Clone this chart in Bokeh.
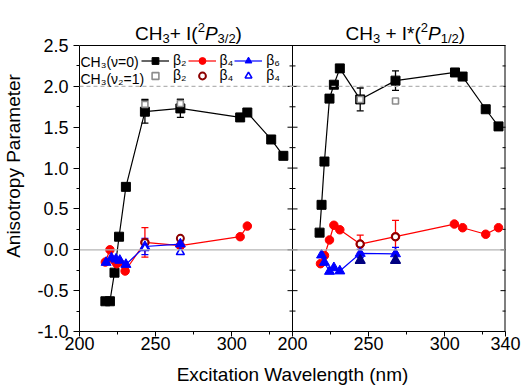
from bokeh.plotting import figure
from bokeh.models import (FixedTicker, PrintfTickFormatter, Span, Label, Legend,
                          LegendItem, Whisker, ColumnDataSource, TeeHead, Range1d)
from bokeh.embed import file_html
from bokeh.resources import INLINE

FONT = "Liberation Sans"

# ---------------- data: left panel  CH3 + I(2P3/2) ----------------
L_b2_x = [217, 220, 223, 226, 230.5, 243, 266.3, 305.6, 310.3, 326, 334]
L_b2_y = [-0.63, -0.63, -0.28, 0.16, 0.77, 1.69, 1.73, 1.62, 1.68, 1.35, 1.15]
L_b4_x = [217, 220, 223, 224.5, 226, 230, 243, 266.3, 305.6, 310.3]
L_b4_y = [-0.15, 0.0, -0.13, -0.17, -0.15, -0.26, 0.09, 0.05, 0.16, 0.29]
L_b6_x = [217.5, 221, 224, 226.5, 230.5, 243, 266.3]
L_b6_y = [-0.155, -0.10, -0.115, -0.13, -0.18, 0.04, 0.07]
L_v2_x = [243, 266.3]
L_v2_b2 = [1.78, 1.79]
L_v2_b4 = [0.09, 0.14]
L_v2_b6 = [0.02, -0.03]
# error bars (half widths) at L_v2_x
L_b2_err = [0.14, 0.11]
L_v2_b2_err = [0.06, 0.05]
L_b4_err_y = [0.09, 0.05]
L_b4_err = [0.18, 0.03]
L_b6_err_y = [0.04, 0.07]
L_b6_err = [0.10, 0.04]

# ---------------- data: right panel  CH3 + I*(2P1/2) ----------------
R_b2_x = [217.8, 219.1, 221.0, 224.3, 227.2, 231.1, 244.5, 267.7, 306.8, 311.8, 327, 335.4]
R_b2_y = [0.21, 0.55, 1.08, 1.85, 2.02, 2.22, 1.84, 2.07, 2.17, 2.12, 1.72, 1.51]
R_b4_x = [218.4, 221, 224.3, 227.2, 231.1, 244.5, 267.7, 306.4, 311.8, 327, 335.4]
R_b4_y = [-0.17, -0.07, 0.12, 0.30, 0.245, 0.07, 0.16, 0.315, 0.27, 0.19, 0.27]
R_b6_x = [219.1, 221, 224.3, 227.2, 231.1, 244.5, 267.7]
R_b6_y = [-0.065, -0.155, -0.265, -0.22, -0.26, -0.045, -0.05]
R_v2_x = [244.5, 267.7]
R_v2_b2 = [1.84, 1.82]
R_v2_b4 = [0.07, 0.16]
R_v2_b6 = [-0.13, -0.13]
R_b2_err_y = [1.84, 2.07]
R_b2_err = [0.14, 0.12]
R_b4_err_y = [0.07, 0.16]
R_b4_err = [0.11, 0.20]
R_b6_err_y = [-0.045, -0.05]
R_b6_err = [0.05, 0.08]

# ---------------- axes ----------------
X_START, X_SPLIT, X_END = 200, 340, 480
OFFSET = X_SPLIT - X_START            # right panel drawn after the left one
X_TICKS = [200, 250, 300, 340, 390, 440, 480]
X_TICK_LABELS = ["200", "250", "300", "200", "250", "300", "340"]
X_MINOR = [225, 275, 325, 365, 415, 465]
Y_MIN, Y_MAX = -1.0, 2.5
Y_TICKS = [-1.0, -0.5, 0.0, 0.5, 1.0, 1.5, 2.0, 2.5]
Y_MINOR = [-0.75, -0.25, 0.25, 0.75, 1.25, 1.75, 2.25]

# layout (pixels)
W_PX, H_PX = 526, 387
BORDER_L, BORDER_R, BORDER_B = 74, 21, 56
PLOT_TOP = 45                      # panel top edge; the titles live above it
PX_PER_UNIT = (H_PX - BORDER_B - PLOT_TOP) / (Y_MAX - Y_MIN)
Y_TOP = Y_MAX + PLOT_TOP / PX_PER_UNIT

def shift(xs):
    return [x + OFFSET for x in xs]

p = figure(width=W_PX, height=H_PX, output_backend="svg", toolbar_location=None,
           x_range=Range1d(X_START, X_END), y_range=Range1d(Y_MIN, Y_TOP),
           min_border_left=BORDER_L, min_border_right=BORDER_R, min_border_top=0,
           min_border_bottom=BORDER_B)
p.xgrid.visible = False
p.ygrid.visible = False
p.outline_line_color = None
p.background_fill_color = "white"
p.border_fill_color = "white"

for ax in (p.xaxis[0], p.yaxis[0]):
    ax.major_label_text_font = FONT
    ax.major_label_text_font_size = "18px"
    ax.major_label_text_color = "black"
    ax.axis_label_text_font = FONT
    ax.axis_label_text_font_size = "19px"
    ax.axis_label_text_font_style = "normal"
    ax.axis_label_text_color = "black"
    ax.axis_line_color = "black"
    ax.major_tick_line_color = "black"
    ax.minor_tick_line_color = "black"
    ax.major_tick_in = 0
    ax.minor_tick_in = 0
    ax.minor_tick_out = 3

xa = p.xaxis[0]
xa.ticker = FixedTicker(ticks=X_TICKS, minor_ticks=X_MINOR)
xa.major_label_overrides = {t: l for t, l in zip(X_TICKS, X_TICK_LABELS)}
xa.major_tick_out = 5
xa.major_label_standoff = 0
xa.axis_label = "Excitation Wavelength (nm)"
xa.axis_label_standoff = 11

ya = p.yaxis[0]
ya.ticker = FixedTicker(ticks=Y_TICKS, minor_ticks=Y_MINOR)
ya.formatter = PrintfTickFormatter(format="%.1f")
ya.bounds = (Y_MIN, Y_MAX)
ya.major_tick_out = 6
ya.major_label_standoff = 5
ya.axis_label = "Anisotropy Parameter"
ya.axis_label_standoff = 10

# reference lines, panel frame and boundary
p.add_layout(Span(location=2.0, dimension="width", line_color="#b4b4b4",
                  line_dash="4 3", line_width=1.2))
p.add_layout(Span(location=0.0, dimension="width", line_color="#b4b4b4", line_width=1.2))
p.add_layout(Span(location=Y_MAX, dimension="width", line_color="black", line_width=1))
p.segment(x0=[X_SPLIT, X_END], y0=[Y_MIN, Y_MIN], x1=[X_SPLIT, X_END], y1=[Y_MAX, Y_MAX],
          line_color="black", line_width=[1, 2])

# inward ticks on the panel boundary and the right frame edge (clipped to frame)
for xpos in (X_SPLIT, X_END):
    p.scatter(x=[xpos] * len(Y_TICKS), y=Y_TICKS, marker="dash", size=10,
              line_color="black", line_width=1)
    p.scatter(x=[xpos] * len(Y_MINOR), y=Y_MINOR, marker="dash", size=6,
              line_color="black", line_width=1)

# ---------------- error bars ----------------
def add_err(xs, ys, es, color):
    src = ColumnDataSource(dict(base=xs, upper=[y + e for y, e in zip(ys, es)],
                                lower=[y - e for y, e in zip(ys, es)]))
    p.add_layout(Whisker(source=src, base="base", upper="upper", lower="lower",
                         dimension="height", line_color=color, line_width=1.3,
                         upper_head=TeeHead(size=7, line_color=color, line_width=1.3),
                         lower_head=TeeHead(size=7, line_color=color, line_width=1.3)))

BLACK, RED, BLUE = "#000000", "#ff0000", "#0000ff"
GRAY, DRED, NAVY = "#8c8c8c", "#8b0000", "#000080"

add_err(L_v2_x, [L_b2_y[5], L_b2_y[6]], L_b2_err, BLACK)
add_err(L_v2_x, L_v2_b2, L_v2_b2_err, BLACK)
add_err(L_v2_x, L_b4_err_y, L_b4_err, RED)
add_err(L_v2_x, L_b6_err_y, L_b6_err, BLUE)
add_err(shift(R_v2_x), R_b2_err_y, R_b2_err, BLACK)
add_err(shift(R_v2_x), R_b4_err_y, R_b4_err, RED)
add_err(shift(R_v2_x), R_b6_err_y, R_b6_err, BLUE)

# ---------------- series ----------------
def series(xs, ys, color, marker, size):
    ln = p.line(xs, ys, line_color=color, line_width=1.2)
    sc = p.scatter(xs, ys, marker=marker, size=size, fill_color=color, line_color=color)
    return ln, sc

lb2 = series(L_b2_x, L_b2_y, BLACK, "square", 9)
series(shift(R_b2_x), R_b2_y, BLACK, "square", 9)

gl = p.scatter(L_v2_x, L_v2_b2, marker="square", size=6, fill_color="white",
               line_color=GRAY, line_width=1.6)
p.scatter(shift(R_v2_x), R_v2_b2, marker="square", size=6, fill_color="white",
          line_color=GRAY, line_width=1.6)

lb4 = series(L_b4_x, L_b4_y, RED, "circle", 8.5)
series(shift(R_b4_x), R_b4_y, RED, "circle", 8.5)

dl = p.scatter(L_v2_x, L_v2_b4, marker="circle", size=7, fill_color="white",
               line_color=DRED, line_width=2)
p.scatter(shift(R_v2_x), R_v2_b4, marker="circle", size=7, fill_color="white",
          line_color=DRED, line_width=2)

lb6 = series(L_b6_x, L_b6_y, BLUE, "triangle", 10)
series(shift(R_b6_x), R_b6_y, BLUE, "triangle", 10)

tl = p.scatter(L_v2_x, L_v2_b6, marker="triangle", size=8, fill_color="white",
               line_color=BLUE, line_width=1.6)
p.scatter(shift(R_v2_x), R_v2_b6, marker="triangle", size=10, fill_color=NAVY,
          line_color=NAVY, line_width=1.2)

# ---------------- legend (two rows) ----------------
def make_legend(items, loc):
    lg = Legend(items=items, location=loc, orientation="horizontal",
                glyph_width=28, glyph_height=17, label_height=17, label_width=12,
                label_standoff=4, spacing=1, padding=0, margin=0,
                background_fill_alpha=0, border_line_alpha=0,
                label_text_font=FONT, label_text_font_size="14px",
                label_text_color="black")
    p.add_layout(lg)

make_legend([LegendItem(label="β₂", renderers=list(lb2)),
             LegendItem(label="β₄", renderers=list(lb4)),
             LegendItem(label="β₆", renderers=list(lb6))], (62, 262.5))
make_legend([LegendItem(label="β₂", renderers=[gl]),
             LegendItem(label="β₄", renderers=[dl]),
             LegendItem(label="β₄", renderers=[tl])], (62, 247.5))

for txt, yb in (("CH₃(ν=0)", 270), ("CH₃(ν₂=1)", 253)):
    p.add_layout(Label(x=1, y=yb, x_units="screen", y_units="screen", text=txt,
                       text_font=FONT, text_font_size="14px", text_color="black",
                       text_baseline="alphabetic"))

# ---------------- panel titles ----------------
W = {"C": 722, "H": 722, " ": 278, "+": 584, "I": 278, "(": 333, ")": 333,
     "P": 667, "*": 389, "/": 278, "0": 556, "1": 556, "2": 556, "3": 556}

def place_title(pieces, x0, yb):
    x = x0
    for txt, size, dy, style in pieces:
        lead = len(txt) - len(txt.lstrip(" "))
        x += lead * W[" "] * size / 1000.0
        body = txt.strip(" ")
        p.add_layout(Label(x=x, y=yb + dy, x_units="screen", y_units="screen", text=body,
                           text_font=FONT, text_font_size=f"{size}px", text_color="black",
                           text_font_style=style, text_baseline="alphabetic"))
        x += sum(W[c] for c in body) * size / 1000.0

BASE = 298
place_title([("CH", 19, 0, "normal"), ("3", 13, -5, "normal"), ("+ I(", 19, 0, "normal"),
             ("2", 13, 6, "normal"), ("P", 19, 0, "italic"), ("3/2", 13, -5, "normal"),
             (")", 19, 0, "normal")], 55.5, BASE)
place_title([("CH", 19, 0, "normal"), ("3", 13, -5, "normal"), (" + I*(", 19, 0, "normal"),
             ("2", 13, 6, "normal"), ("P", 19, 0, "italic"), ("1/2", 13, -5, "normal"),
             (")", 19, 0, "normal")], 266, BASE)

open("out.html", "w").write(file_html(p, INLINE))
